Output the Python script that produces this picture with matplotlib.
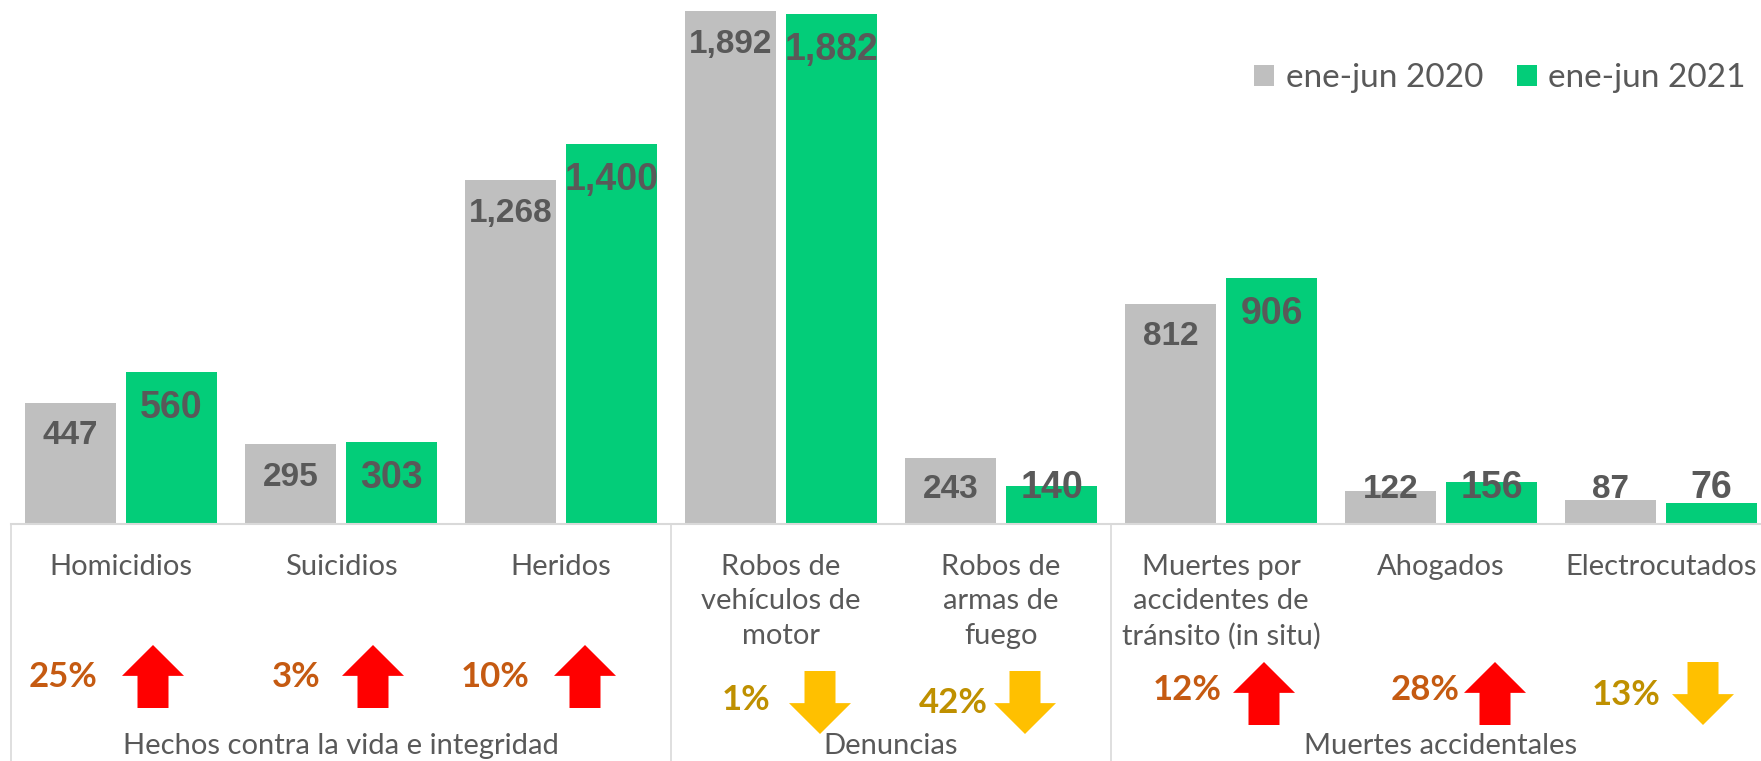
import numpy as np
import matplotlib
matplotlib.use("Agg")
import matplotlib.pyplot as plt
from matplotlib import transforms
from matplotlib.patches import Polygon

# datos
categorias = ["Homicidios", "Suicidios", "Heridos",
              "Robos de\nvehículos de\nmotor", "Robos de\narmas de\nfuego",
              "Muertes por\naccidentes de\ntránsito (in situ)", "Ahogados", "Electrocutados"]
grupos = ["Hechos contra la vida e integridad", "Denuncias", "Muertes accidentales"]
tam_grupos = [3, 2, 3]
serie_2020 = [447, 295, 1268, 1892, 243, 812, 122, 87]
serie_2021 = [560, 303, 1400, 1882, 140, 906, 156, 76]
etiquetas = ["ene-jun 2020", "ene-jun 2021"]

# mise en page (pixels depuis le haut de la figure)
W, H = 1761, 761
base_px = 524
off_txt = [-58, -45, -66, -35, -48, -34, -16, -35]
off_fle = [32, 32, 24, 39, 24, 43, 54, 42]
y_fle = [645, 645, 645, 671, 671, 662, 662, 662]
y_txt = [677, 677, 677, 700, 703, 690, 690, 695]

gris = "#BFBFBF"
verde = "#03CD79"
texto = "#595959"
linea = "#D9D9D9"
FONT = "Lato"

fig = plt.figure(figsize=(W / 100, H / 100), dpi=100)
ax = fig.add_axes([11 / W, 1 - base_px / H, 1760 / W, base_px / H])

x = np.arange(len(categorias))
b1 = ax.bar(x - 0.23, serie_2020, width=0.416, color=gris, label=etiquetas[0])
b2 = ax.bar(x + 0.23, serie_2021, width=0.416, color=verde, label=etiquetas[1])
ax.set_xlim(-0.5, len(categorias) - 0.5)
ax.set_ylim(0, 1933)

for s in ["top", "left", "right"]:
    ax.spines[s].set_visible(False)
ax.spines["bottom"].set_color(linea)
ax.spines["bottom"].set_linewidth(1.5)
ax.set_xticks([])
ax.set_yticks([])

# etiquetas de datos
for xi, v in zip(x, serie_2020):
    ax.text(xi - 0.23, max(v - 122, 128), f"{v:,}", ha="center", va="center",
            fontsize=24, fontweight="bold", color=texto, family="Liberation Sans")
for xi, v in zip(x, serie_2021):
    ax.text(xi + 0.23, max(v - 132, 132), f"{v:,}", ha="center", va="center",
            fontsize=27, fontweight="bold", color=texto, family="Liberation Sans")

tr = transforms.blended_transform_factory(ax.transData, fig.transFigure)
fy = lambda px: 1 - px / H

# ejes de categorias
for xi, lab in zip(x, categorias):
    ax.text(xi, fy(554), lab, transform=tr, ha="center", va="top", fontsize=21,
            color=texto, family=FONT, linespacing=1.4)

# separadores y grupos
bordes = np.concatenate([[0], np.cumsum(tam_grupos)]) - 0.5
for b in bordes:
    ax.plot([b, b], [fy(base_px), 0], transform=tr, color=linea, lw=1.2, clip_on=False)
for g, a, b in zip(grupos, bordes[:-1], bordes[1:]):
    ax.text((a + b) / 2, fy(746), g, transform=tr, ha="center", va="center",
            fontsize=21, color=texto, family=FONT)

# variaciones
aw = 62 / 220
ah = 63 / H
for i, (a, b) in enumerate(zip(serie_2020, serie_2021)):
    var = (b - a) / a
    sube = var > 0
    col_t = "#C55A11" if sube else "#BF9000"
    col_f = "#FF0000" if sube else "#FFC000"
    ax.text(x[i] + off_txt[i] / 220, fy(y_txt[i]), f"{abs(var):.0%}", transform=tr,
            ha="center", va="center", fontsize=25, fontweight="bold", color=col_t, family=FONT)
    cx = x[i] + off_fle[i] / 220
    top = fy(y_fle[i])
    bot = top - ah
    hw, sw = aw / 2, aw / 4
    if sube:
        mid = top - ah * 0.49
        pts = [(cx, top), (cx + hw, mid), (cx + sw, mid), (cx + sw, bot),
               (cx - sw, bot), (cx - sw, mid), (cx - hw, mid)]
    else:
        mid = bot + ah * 0.49
        pts = [(cx, bot), (cx + hw, mid), (cx + sw, mid), (cx + sw, top),
               (cx - sw, top), (cx - sw, mid), (cx - hw, mid)]
    ax.add_patch(Polygon(pts, closed=True, transform=tr, color=col_f, clip_on=False, lw=0))

leg = ax.legend(handles=[b1, b2], ncol=2, frameon=False, loc="upper right",
                bbox_to_anchor=(1776 / W, 1 - 33 / H), bbox_transform=fig.transFigure,
                handlelength=0.6, handleheight=0.6, handletextpad=0.35,
                columnspacing=1.0, prop={"family": FONT, "size": 24})
for t in leg.get_texts():
    t.set_color(texto)

fig.savefig("out.png", dpi=100)
